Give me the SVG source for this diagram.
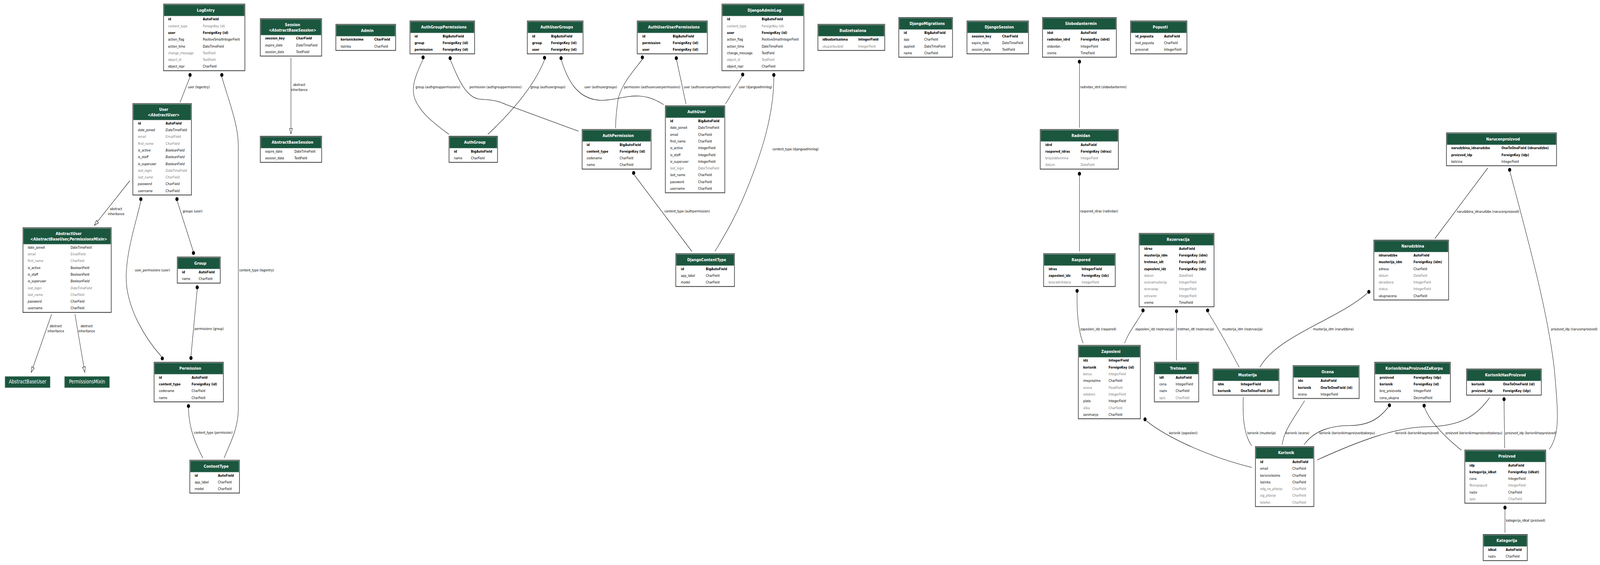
<svg xmlns="http://www.w3.org/2000/svg" width="5136" height="1447" viewBox="0 0 5136 1447" preserveAspectRatio="none">
<style>
svg{width:100vw;height:1447px}
.bx{fill:#fff;stroke:#3c3c3c;stroke-width:2}
.hd{fill:#1b563f;stroke:#9fb5aa;stroke-width:0.8}
.tt{font-family:"DejaVu Sans",Verdana,sans-serif;font-size:11.3px;font-weight:bold;fill:#fff;text-anchor:middle}
.f{font-family:"DejaVu Sans",Verdana,sans-serif;font-size:9.45px;fill:#000}
.b{font-weight:bold}
.g{fill:#7b7b7b}
.i{font-style:italic}
.lb{font-family:"DejaVu Sans",Verdana,sans-serif;font-size:9.45px;fill:#000}
.lc{text-anchor:middle}
.e{fill:none;stroke:#000;stroke-width:1.1}
.d{fill:#000}
.ar{fill:#fff;stroke:#000;stroke-width:1.1}
.pl{fill:#1b563f;stroke:#9fb5aa;stroke-width:1}
.pt{font-family:"DejaVu Sans",Verdana,sans-serif;font-size:13.5px;fill:#fff;text-anchor:middle}
</style>
<rect width="5136" height="1447" fill="#fff"/>
<g id="connectors">
<circle class="d" cx="610" cy="192" r="5"/><path class="e" d="M610,197 L578,262"/>
<text class="lb" x="603" y="226.4">user (logentry)</text>
<circle class="d" cx="712" cy="192" r="5"/><path class="e" d="M712,197 C735,260 765,320 765,372 L765,1048 C765,1100 735,1140 719.5,1173"/>
<text class="lb" x="768" y="695.4">content_type (logentry)</text>
<circle class="d" cx="452" cy="510" r="5"/><circle class="d" cx="521" cy="918" r="5"/>
<path class="e" d="M452,515 C440,560 406,640 405,708 C404,790 470,870 518,913"/>
<text class="lb" x="433" y="695.4">user_permissions (user)</text>
<circle class="d" cx="568" cy="510" r="5"/><circle class="d" cx="621" cy="648" r="5"/>
<path class="e" d="M569,515 L620,643"/>
<text class="lb" x="586.5" y="544.4">groups (user)</text>
<circle class="d" cx="633" cy="736" r="5"/><circle class="d" cx="613" cy="917" r="5"/>
<path class="e" d="M633,741 L613,912"/>
<text class="lb" x="624" y="845.4">permissions (group)</text>
<circle class="d" cx="605" cy="1040" r="5"/><path class="e" d="M605,1045 C606,1100 630,1140 651,1173"/>
<text class="lb" x="622.7" y="1111.4">content_type (permission)</text>
<path class="e" d="M934,148 L934,329"/><polygon class="ar" points="934,343 929.5,329 938.5,329"/>
<text class="lb lc" x="960.5" y="220.4">abstract</text><text class="lb lc" x="960.5" y="233.4">inheritance</text>
<path class="e" d="M416.7,463 L312.9,567.4"/><polygon class="ar" points="303,577.3 316.1,570.6 309.7,564.2"/>
<text class="lb lc" x="372.6" y="538.4">abstract</text><text class="lb lc" x="372.6" y="551.4">inheritance</text>
<path class="e" d="M165.6,805 L105.9,940.8"/><polygon class="ar" points="100.3,953.6 110,942.6 101.8,939"/>
<text class="lb lc" x="179" y="838.4">abstract</text><text class="lb lc" x="179" y="851.4">inheritance</text>
<path class="e" d="M240.6,805 L269.3,939.9"/><polygon class="ar" points="272.2,953.6 273.7,939 264.9,940.8"/>
<text class="lb lc" x="278" y="838.4">abstract</text><text class="lb lc" x="278" y="851.4">inheritance</text>
<circle class="d" cx="1358" cy="147" r="5"/><path class="e" d="M1358,152 C1335,190 1325,215 1327,235 C1330,280 1400,320 1441,344"/>
<text class="lb" x="1334" y="226.4">group (authgrouppermissions)</text>
<circle class="d" cx="1445" cy="149" r="5"/><path class="e" d="M1446,154 C1470,200 1495,250 1540,254 C1580,256 1600,258 1625,268 L1857,336"/>
<text class="lb" x="1507" y="226.4">permission (authgrouppermissions)</text>
<circle class="d" cx="1748" cy="148" r="5"/><path class="e" d="M1748,153 Q1705,240 1566,344"/>
<text class="lb" x="1703" y="226.4">group (authusergroups)</text>
<circle class="d" cx="1801" cy="149" r="5"/><path class="e" d="M1802,154 C1820,200 1850,255 1930,257 C1990,258 2050,225 2130,268"/>
<text class="lb" x="1875.7" y="226.4">user (authusergroups)</text>
<circle class="d" cx="2062" cy="147" r="5"/><path class="e" d="M2062,152 C2030,185 1990,220 1983,260 C1978,290 1976,310 1976,328"/>
<text class="lb" x="2002.6" y="226.4">permission (authuseruserpermissions)</text>
<circle class="d" cx="2171" cy="149" r="5"/><path class="e" d="M2172,154 L2202,266"/>
<text class="lb" x="2194.7" y="226.4">user (authuseruserpermissions)</text>
<circle class="d" cx="2384" cy="191" r="5"/><path class="e" d="M2382,196 L2329,266"/>
<text class="lb" x="2371.5" y="226.4">user (djangoadminlog)</text>
<circle class="d" cx="2484" cy="192" r="5"/><path class="e" d="M2484,197 C2484,300 2440,400 2400,480 C2360,560 2320,610 2295,644"/>
<text class="lb" x="2479.5" y="385.4">content_type (djangoadminlog)</text>
<circle class="d" cx="2034" cy="443" r="5"/><path class="e" d="M2036,448 L2221,644"/>
<text class="lb" x="2133" y="544.4">content_type (authpermission)</text>
<circle class="d" cx="3465" cy="158" r="5"/><path class="e" d="M3465,163 L3465,327"/>
<text class="lb" x="3467" y="226.4">radnidan_idrd (slobodantermin)</text>
<circle class="d" cx="3465" cy="445" r="5"/><path class="e" d="M3465,450 L3465,644"/>
<text class="lb" x="3467" y="544.4">raspored_idras (radnidan)</text>
<circle class="d" cx="3457.5" cy="745" r="5"/><path class="e" d="M3457.5,750 C3456,800 3462,850 3477,879"/>
<text class="lb" x="3468" y="845.9">zaposleni_idz (raspored)</text>
<circle class="d" cx="3669" cy="795" r="5"/><path class="e" d="M3667,800 C3645,830 3620,855 3610,879"/>
<text class="lb" x="3644.6" y="845.9">zaposleni_idz (rezervacija)</text>
<circle class="d" cx="3776.6" cy="797" r="5"/><path class="e" d="M3776.6,802 L3776.6,923"/>
<text class="lb" x="3780" y="845.9">tretman_idt (rezervacija)</text>
<circle class="d" cx="3876.5" cy="795" r="5"/><path class="e" d="M3878,800 Q3925,860 3978,941"/>
<text class="lb" x="3923.6" y="845.9">musterija_idm (rezervacija)</text>
<circle class="d" cx="4394" cy="747.5" r="5"/><path class="e" d="M4389,751 C4290,820 4100,860 4044,941"/>
<text class="lb" x="4215" y="845.9">musterija_idm (narudzbina)</text>
<path class="e" d="M4776,430 L4606,611"/>
<text class="lb" x="4676.4" y="544.8">narudzbina_idnarudzbe (narucenproizvod)</text>
<circle class="d" cx="4846" cy="435" r="5"/><path class="e" d="M4847,440 C4900,600 4970,800 4990,950 C5000,1050 5010,1110 4973,1151"/>
<text class="lb" x="4979" y="845.9">proizvod_idp (narucenproizvod)</text>
<circle class="d" cx="3675.6" cy="1074" r="5"/><path class="e" d="M3680,1078 C3745,1120 3880,1170 4018,1197"/>
<text class="lb" x="3752.5" y="1111.6">korisnik (zaposleni)</text>
<path class="e" d="M3991,1017 C3988,1075 3995,1115 4018,1142"/>
<text class="lb" x="4004" y="1111.6">korisnik (musterija)</text>
<path class="e" d="M4188,1026 C4150,1075 4120,1105 4116,1139"/>
<text class="lb" x="4127" y="1111.6">korisnik (ocena)</text>
<circle class="d" cx="4460" cy="1038" r="5"/><path class="e" d="M4456,1043 C4420,1080 4380,1090 4330,1090 C4280,1090 4220,1100 4186,1139"/>
<text class="lb" x="4235" y="1111.6">korisnik (korisnikimaproizvodzakorpu)</text>
<circle class="d" cx="4571.5" cy="1039" r="5"/><path class="e" d="M4573,1044 C4590,1080 4640,1120 4691,1153"/>
<text class="lb" x="4640" y="1111.6">proizvod (korisnikimaproizvodzakorpu)</text>
<path class="e" d="M4782,1018 C4740,1065 4690,1092 4580,1093 C4480,1094 4360,1130 4228,1178"/>
<text class="lb" x="4479" y="1111.6">korisnik (korisnikhasproizvod)</text>
<circle class="d" cx="4828" cy="1022.5" r="5"/><path class="e" d="M4828,1027 L4830,1148"/>
<text class="lb" x="4832" y="1111.6">proizvod_idp (korisnikhasproizvod)</text>
<circle class="d" cx="4831" cy="1300" r="5"/><path class="e" d="M4831,1305 L4831,1364"/>
<text class="lb" x="4834" y="1336.4">kategorija_idkat (proizvod)</text>
</g>

<g id="LogEntry">
<rect class="bx" x="525" y="10.5" width="261" height="170.6"/><rect class="hd" x="526.5" y="12" width="258" height="29"/>
<text class="tt" x="660.5" y="29.8">LogEntry</text>
<text class="f b" y="52.4"><tspan x="539.5">id</tspan><tspan x="651">AutoField</tspan></text>
<text class="f g" y="69.7"><tspan x="539.5">content_type</tspan><tspan x="651">ForeignKey (id)</tspan></text>
<text class="f b" y="87"><tspan x="539.5">user</tspan><tspan x="651">ForeignKey (id)</tspan></text>
<text class="f" y="104.3"><tspan x="539.5">action_flag</tspan><tspan x="651">PositiveSmallIntegerField</tspan></text>
<text class="f" y="121.6"><tspan x="539.5">action_time</tspan><tspan x="651">DateTimeField</tspan></text>
<text class="f g" y="138.9"><tspan x="539.5">change_message</tspan><tspan x="651">TextField</tspan></text>
<text class="f g" y="156.2"><tspan x="539.5">object_id</tspan><tspan x="651">TextField</tspan></text>
<text class="f" y="173.5"><tspan x="539.5">object_repr</tspan><tspan x="651">CharField</tspan></text>
</g>

<g id="Session">
<rect class="bx" x="835.5" y="48" width="197" height="95.6"/><rect class="hd" x="837" y="49.5" width="194" height="40.5"/>
<text class="tt" x="939" y="67">Session</text>
<text class="tt" x="939" y="80.6">&lt;<tspan class="i">AbstractBaseSession</tspan>&gt;</text>
<text class="f b i" y="101.4"><tspan x="851">session_key</tspan><tspan x="950.5">CharField</tspan></text>
<text class="f i" y="118.7"><tspan x="851">expire_date</tspan><tspan x="950.5">DateTimeField</tspan></text>
<text class="f i" y="136"><tspan x="851">session_data</tspan><tspan x="950.5">TextField</tspan></text>
</g>

<g id="AbstractBaseSession">
<rect class="bx" x="835.5" y="349" width="197" height="66.8"/><rect class="hd" x="837" y="350.5" width="194" height="29"/>
<text class="tt" x="939" y="368.3">AbstractBaseSession</text>
<text class="f" y="390.9"><tspan x="851">expire_date</tspan><tspan x="945">DateTimeField</tspan></text>
<text class="f" y="408.2"><tspan x="851">session_data</tspan><tspan x="945">TextField</tspan></text>
</g>

<g id="User">
<rect class="bx" x="426.5" y="265.4" width="188" height="234"/><rect class="hd" x="428" y="266.9" width="185" height="40.5"/>
<text class="tt" x="525.5" y="284.4">User</text>
<text class="tt" x="525.5" y="298">&lt;<tspan class="i">AbstractUser</tspan>&gt;</text>
<text class="f b" y="318.8"><tspan x="442.6">id</tspan><tspan x="531.8">AutoField</tspan></text>
<text class="f i" y="336.1"><tspan x="442.6">date_joined</tspan><tspan x="531.8">DateTimeField</tspan></text>
<text class="f i g" y="353.4"><tspan x="442.6">email</tspan><tspan x="531.8">EmailField</tspan></text>
<text class="f i g" y="370.7"><tspan x="442.6">first_name</tspan><tspan x="531.8">CharField</tspan></text>
<text class="f i" y="388"><tspan x="442.6">is_active</tspan><tspan x="531.8">BooleanField</tspan></text>
<text class="f i" y="405.3"><tspan x="442.6">is_staff</tspan><tspan x="531.8">BooleanField</tspan></text>
<text class="f i" y="422.6"><tspan x="442.6">is_superuser</tspan><tspan x="531.8">BooleanField</tspan></text>
<text class="f i g" y="439.9"><tspan x="442.6">last_login</tspan><tspan x="531.8">DateTimeField</tspan></text>
<text class="f i g" y="457.2"><tspan x="442.6">last_name</tspan><tspan x="531.8">CharField</tspan></text>
<text class="f i" y="474.5"><tspan x="442.6">password</tspan><tspan x="531.8">CharField</tspan></text>
<text class="f i" y="491.8"><tspan x="442.6">username</tspan><tspan x="531.8">CharField</tspan></text>
</g>

<g id="AbstractUser">
<rect class="bx" x="73.7" y="583.35" width="283.3" height="216.7"/><rect class="hd" x="75.2" y="584.85" width="280.3" height="40.5"/>
<text class="tt" x="220.35" y="602.35">AbstractUser</text>
<text class="tt" x="220.35" y="615.95">&lt;<tspan class="i">AbstractBaseUser,PermissionsMixin</tspan>&gt;</text>
<text class="f" y="636.75"><tspan x="89">date_joined</tspan><tspan x="226.6">DateTimeField</tspan></text>
<text class="f g" y="654.05"><tspan x="89">email</tspan><tspan x="226.6">EmailField</tspan></text>
<text class="f g" y="671.35"><tspan x="89">first_name</tspan><tspan x="226.6">CharField</tspan></text>
<text class="f" y="688.65"><tspan x="89">is_active</tspan><tspan x="226.6">BooleanField</tspan></text>
<text class="f" y="705.95"><tspan x="89">is_staff</tspan><tspan x="226.6">BooleanField</tspan></text>
<text class="f i" y="723.25"><tspan x="89">is_superuser</tspan><tspan x="226.6">BooleanField</tspan></text>
<text class="f i g" y="740.55"><tspan x="89">last_login</tspan><tspan x="226.6">DateTimeField</tspan></text>
<text class="f g" y="757.85"><tspan x="89">last_name</tspan><tspan x="226.6">CharField</tspan></text>
<text class="f i" y="775.15"><tspan x="89">password</tspan><tspan x="226.6">CharField</tspan></text>
<text class="f" y="792.45"><tspan x="89">username</tspan><tspan x="226.6">CharField</tspan></text>
</g>

<g id="AbstractBaseUser">
<rect class="pl" x="16" y="964" width="145" height="29"/>
<text class="pt" x="88.5" y="981.8">AbstractBaseUser</text>
</g>
<g id="PermissionsMixin">
<rect class="pl" x="207" y="964" width="144.5" height="29"/>
<text class="pt" x="279.25" y="981.8">PermissionsMixin</text>
</g>

<g id="Group">
<rect class="bx" x="569" y="658.3" width="138" height="66.8"/><rect class="hd" x="570.5" y="659.8" width="135" height="29"/>
<text class="tt" x="643" y="677.6">Group</text>
<text class="f b" y="700.2"><tspan x="584">id</tspan><tspan x="638">AutoField</tspan></text>
<text class="f" y="717.5"><tspan x="584">name</tspan><tspan x="638">CharField</tspan></text>
</g>

<g id="Permission">
<rect class="bx" x="494.6" y="927.8" width="222.4" height="101.4"/><rect class="hd" x="496.1" y="929.3" width="219.4" height="29"/>
<text class="tt" x="610.8" y="947.1">Permission</text>
<text class="f b" y="969.7"><tspan x="510">id</tspan><tspan x="615">AutoField</tspan></text>
<text class="f b" y="987"><tspan x="510">content_type</tspan><tspan x="615">ForeignKey (id)</tspan></text>
<text class="f" y="1004.3"><tspan x="510">codename</tspan><tspan x="615">CharField</tspan></text>
<text class="f" y="1021.6"><tspan x="510">name</tspan><tspan x="615">CharField</tspan></text>
</g>

<g id="ContentType">
<rect class="bx" x="609.3" y="1178.65" width="159.4" height="84.1"/><rect class="hd" x="610.8" y="1180.15" width="156.4" height="29"/>
<text class="tt" x="694" y="1197.95">ContentType</text>
<text class="f b" y="1220.55"><tspan x="625">id</tspan><tspan x="699.7">AutoField</tspan></text>
<text class="f" y="1237.85"><tspan x="625">app_label</tspan><tspan x="699.7">CharField</tspan></text>
<text class="f" y="1255.15"><tspan x="625">model</tspan><tspan x="699.7">CharField</tspan></text>
</g>

<g id="Admin">
<rect class="bx" x="1078" y="62.4" width="192" height="66.8"/><rect class="hd" x="1079.5" y="63.9" width="189" height="29"/>
<text class="tt" x="1179" y="81.7">Admin</text>
<text class="f b" y="104.3"><tspan x="1093.5">korisnickoime</tspan><tspan x="1201.5">CharField</tspan></text>
<text class="f" y="121.6"><tspan x="1093.5">lozinka</tspan><tspan x="1201.5">CharField</tspan></text>
</g>

<g id="AuthGroupPermissions">
<rect class="bx" x="1316" y="53.75" width="207.5" height="84.1"/><rect class="hd" x="1317.5" y="55.25" width="204.5" height="29"/>
<text class="tt" x="1424.75" y="73.05">AuthGroupPermissions</text>
<text class="f b" y="95.65"><tspan x="1330.6">id</tspan><tspan x="1421">BigAutoField</tspan></text>
<text class="f b" y="112.95"><tspan x="1330.6">group</tspan><tspan x="1421">ForeignKey (id)</tspan></text>
<text class="f b" y="130.25"><tspan x="1330.6">permission</tspan><tspan x="1421">ForeignKey (id)</tspan></text>
</g>

<g id="AuthUserGroups">
<rect class="bx" x="1692.6" y="53.75" width="179" height="84.1"/><rect class="hd" x="1694.1" y="55.25" width="176" height="29"/>
<text class="tt" x="1787.1" y="73.05">AuthUserGroups</text>
<text class="f b" y="95.65"><tspan x="1708">id</tspan><tspan x="1769">BigAutoField</tspan></text>
<text class="f b" y="112.95"><tspan x="1708">group</tspan><tspan x="1769">ForeignKey (id)</tspan></text>
<text class="f b" y="130.25"><tspan x="1708">user</tspan><tspan x="1769">ForeignKey (id)</tspan></text>
</g>

<g id="AuthUserUserPermissions">
<rect class="bx" x="2045.5" y="53.75" width="225" height="84.1"/><rect class="hd" x="2047" y="55.25" width="222" height="29"/>
<text class="tt" x="2163" y="73.05">AuthUserUserPermissions</text>
<text class="f b" y="95.65"><tspan x="2061.6">id</tspan><tspan x="2159.6">BigAutoField</tspan></text>
<text class="f b" y="112.95"><tspan x="2061.6">permission</tspan><tspan x="2159.6">ForeignKey (id)</tspan></text>
<text class="f b" y="130.25"><tspan x="2061.6">user</tspan><tspan x="2159.6">ForeignKey (id)</tspan></text>
</g>

<g id="AuthGroup">
<rect class="bx" x="1441.4" y="349" width="155.6" height="66.8"/><rect class="hd" x="1442.9" y="350.5" width="152.6" height="29"/>
<text class="tt" x="1524.2" y="368.3">AuthGroup</text>
<text class="f b" y="390.9"><tspan x="1457">id</tspan><tspan x="1511.6">BigAutoField</tspan></text>
<text class="f" y="408.2"><tspan x="1457">name</tspan><tspan x="1511.6">CharField</tspan></text>
</g>

<g id="AuthPermission">
<rect class="bx" x="1868.7" y="331.7" width="221.3" height="101.4"/><rect class="hd" x="1870.2" y="333.2" width="218.3" height="29"/>
<text class="tt" x="1984.35" y="351">AuthPermission</text>
<text class="f b" y="373.6"><tspan x="1883">id</tspan><tspan x="1989">BigAutoField</tspan></text>
<text class="f b" y="390.9"><tspan x="1883">content_type</tspan><tspan x="1989">ForeignKey (id)</tspan></text>
<text class="f" y="408.2"><tspan x="1883">codename</tspan><tspan x="1989">CharField</tspan></text>
<text class="f" y="425.5"><tspan x="1883">name</tspan><tspan x="1989">CharField</tspan></text>
</g>

<g id="DjangoAdminLog">
<rect class="bx" x="2317.5" y="10.5" width="263" height="170.6"/><rect class="hd" x="2319" y="12" width="260" height="29"/>
<text class="tt" x="2454" y="29.8">DjangoAdminLog</text>
<text class="f b" y="52.4"><tspan x="2333.6">id</tspan><tspan x="2445">BigAutoField</tspan></text>
<text class="f g" y="69.7"><tspan x="2333.6">content_type</tspan><tspan x="2445">ForeignKey (id)</tspan></text>
<text class="f b" y="87"><tspan x="2333.6">user</tspan><tspan x="2445">ForeignKey (id)</tspan></text>
<text class="f" y="104.3"><tspan x="2333.6">action_flag</tspan><tspan x="2445">PositiveSmallIntegerField</tspan></text>
<text class="f" y="121.6"><tspan x="2333.6">action_time</tspan><tspan x="2445">DateTimeField</tspan></text>
<text class="f" y="138.9"><tspan x="2333.6">change_message</tspan><tspan x="2445">TextField</tspan></text>
<text class="f g" y="156.2"><tspan x="2333.6">object_id</tspan><tspan x="2445">TextField</tspan></text>
<text class="f" y="173.5"><tspan x="2333.6">object_repr</tspan><tspan x="2445">CharField</tspan></text>
</g>

<g id="AuthUser">
<rect class="bx" x="2135.8" y="271.15" width="190.8" height="222.5"/><rect class="hd" x="2137.3" y="272.65" width="187.8" height="29"/>
<text class="tt" x="2236.2" y="290.45">AuthUser</text>
<text class="f b" y="313.05"><tspan x="2151">id</tspan><tspan x="2241">BigAutoField</tspan></text>
<text class="f" y="330.35"><tspan x="2151">date_joined</tspan><tspan x="2241">DateTimeField</tspan></text>
<text class="f" y="347.65"><tspan x="2151">email</tspan><tspan x="2241">CharField</tspan></text>
<text class="f" y="364.95"><tspan x="2151">first_name</tspan><tspan x="2241">CharField</tspan></text>
<text class="f" y="382.25"><tspan x="2151">is_active</tspan><tspan x="2241">IntegerField</tspan></text>
<text class="f" y="399.55"><tspan x="2151">is_staff</tspan><tspan x="2241">IntegerField</tspan></text>
<text class="f" y="416.85"><tspan x="2151">is_superuser</tspan><tspan x="2241">IntegerField</tspan></text>
<text class="f g" y="434.15"><tspan x="2151">last_login</tspan><tspan x="2241">DateTimeField</tspan></text>
<text class="f" y="451.45"><tspan x="2151">last_name</tspan><tspan x="2241">CharField</tspan></text>
<text class="f" y="468.75"><tspan x="2151">password</tspan><tspan x="2241">CharField</tspan></text>
<text class="f" y="486.05"><tspan x="2151">username</tspan><tspan x="2241">CharField</tspan></text>
</g>

<g id="Budzetsalona">
<rect class="bx" x="2625.4" y="62.4" width="214.6" height="66.8"/><rect class="hd" x="2626.9" y="63.9" width="211.6" height="29"/>
<text class="tt" x="2737.7" y="81.7">Budzetsalona</text>
<text class="f b" y="104.3"><tspan x="2640">idbudzetsalona</tspan><tspan x="2755">IntegerField</tspan></text>
<text class="f g" y="121.6"><tspan x="2640">ukupanbudzet</tspan><tspan x="2755">IntegerField</tspan></text>
</g>

<g id="DjangoMigrations">
<rect class="bx" x="2885" y="45.1" width="172.6" height="101.4"/><rect class="hd" x="2886.5" y="46.6" width="169.6" height="29"/>
<text class="tt" x="2976.3" y="64.4">DjangoMigrations</text>
<text class="f b" y="87"><tspan x="2901">id</tspan><tspan x="2967">BigAutoField</tspan></text>
<text class="f" y="104.3"><tspan x="2901">app</tspan><tspan x="2967">CharField</tspan></text>
<text class="f" y="121.6"><tspan x="2901">applied</tspan><tspan x="2967">DateTimeField</tspan></text>
<text class="f" y="138.9"><tspan x="2901">name</tspan><tspan x="2967">CharField</tspan></text>
</g>

<g id="DjangoSession">
<rect class="bx" x="3104" y="53.75" width="197.5" height="84.1"/><rect class="hd" x="3105.5" y="55.25" width="194.5" height="29"/>
<text class="tt" x="3207.75" y="73.05">DjangoSession</text>
<text class="f b" y="95.65"><tspan x="3119">session_key</tspan><tspan x="3217">CharField</tspan></text>
<text class="f" y="112.95"><tspan x="3119">expire_date</tspan><tspan x="3217">DateTimeField</tspan></text>
<text class="f" y="130.25"><tspan x="3119">session_data</tspan><tspan x="3217">TextField</tspan></text>
</g>

<g id="Slobodantermin">
<rect class="bx" x="3346.4" y="45.1" width="237" height="101.4"/><rect class="hd" x="3347.9" y="46.6" width="234" height="29"/>
<text class="tt" x="3469.9" y="64.4">Slobodantermin</text>
<text class="f b" y="87"><tspan x="3361">idst</tspan><tspan x="3469">AutoField</tspan></text>
<text class="f b" y="104.3"><tspan x="3361">radnidan_idrd</tspan><tspan x="3469">ForeignKey (idrd)</tspan></text>
<text class="f" y="121.6"><tspan x="3361">slobodan</tspan><tspan x="3469">IntegerField</tspan></text>
<text class="f" y="138.9"><tspan x="3361">vreme</tspan><tspan x="3469">TimeField</tspan></text>
</g>

<g id="Popusti">
<rect class="bx" x="3629" y="53.75" width="181" height="84.1"/><rect class="hd" x="3630.5" y="55.25" width="178" height="29"/>
<text class="tt" x="3724.5" y="73.05">Popusti</text>
<text class="f b" y="95.65"><tspan x="3644.6">id_popusta</tspan><tspan x="3736.5">AutoField</tspan></text>
<text class="f" y="112.95"><tspan x="3644.6">kod_popusta</tspan><tspan x="3736.5">CharField</tspan></text>
<text class="f" y="130.25"><tspan x="3644.6">procenat</tspan><tspan x="3736.5">IntegerField</tspan></text>
</g>

<g id="Radnidan">
<rect class="bx" x="3339" y="331.7" width="251" height="101.4"/><rect class="hd" x="3340.5" y="333.2" width="248" height="29"/>
<text class="tt" x="3469.5" y="351">Radnidan</text>
<text class="f b" y="373.6"><tspan x="3355.5">idrd</tspan><tspan x="3469">AutoField</tspan></text>
<text class="f b" y="390.9"><tspan x="3355.5">raspored_idras</tspan><tspan x="3469">ForeignKey (idras)</tspan></text>
<text class="f g" y="408.2"><tspan x="3355.5">brojslobtermina</tspan><tspan x="3469">IntegerField</tspan></text>
<text class="f g" y="425.5"><tspan x="3355.5">datum</tspan><tspan x="3469">DateField</tspan></text>
</g>

<g id="Raspored">
<rect class="bx" x="3350" y="649.65" width="230" height="84.1"/><rect class="hd" x="3351.5" y="651.15" width="227" height="29"/>
<text class="tt" x="3470" y="668.95">Raspored</text>
<text class="f b" y="691.55"><tspan x="3366">idras</tspan><tspan x="3472">IntegerField</tspan></text>
<text class="f b" y="708.85"><tspan x="3366">zaposleni_idz</tspan><tspan x="3472">ForeignKey (idz)</tspan></text>
<text class="f g" y="726.15"><tspan x="3366">brojradnihdana</tspan><tspan x="3472">IntegerField</tspan></text>
</g>

<g id="DjangoContentType">
<rect class="bx" x="2169.3" y="649.65" width="188.4" height="84.1"/><rect class="hd" x="2170.8" y="651.15" width="185.4" height="29"/>
<text class="tt" x="2268.5" y="668.95">DjangoContentType</text>
<text class="f b" y="691.55"><tspan x="2185.7">id</tspan><tspan x="2265.7">BigAutoField</tspan></text>
<text class="f" y="708.85"><tspan x="2185.7">app_label</tspan><tspan x="2265.7">CharField</tspan></text>
<text class="f" y="726.15"><tspan x="2185.7">model</tspan><tspan x="2265.7">CharField</tspan></text>
</g>

<g id="Rezervacija">
<rect class="bx" x="3656.7" y="597.75" width="240.3" height="187.9"/><rect class="hd" x="3658.2" y="599.25" width="237.3" height="29"/>
<text class="tt" x="3781.85" y="617.05">Rezervacija</text>
<text class="f b" y="639.65"><tspan x="3672.7">idrez</tspan><tspan x="3784.7">AutoField</tspan></text>
<text class="f b" y="656.95"><tspan x="3672.7">musterija_idm</tspan><tspan x="3784.7">ForeignKey (idm)</tspan></text>
<text class="f b" y="674.25"><tspan x="3672.7">tretman_idt</tspan><tspan x="3784.7">ForeignKey (idt)</tspan></text>
<text class="f b" y="691.55"><tspan x="3672.7">zaposleni_idz</tspan><tspan x="3784.7">ForeignKey (idz)</tspan></text>
<text class="f g" y="708.85"><tspan x="3672.7">datum</tspan><tspan x="3784.7">DateField</tspan></text>
<text class="f g" y="726.15"><tspan x="3672.7">ocenamusterija</tspan><tspan x="3784.7">IntegerField</tspan></text>
<text class="f g" y="743.45"><tspan x="3672.7">ocenazap</tspan><tspan x="3784.7">IntegerField</tspan></text>
<text class="f g" y="760.75"><tspan x="3672.7">ostvaren</tspan><tspan x="3784.7">IntegerField</tspan></text>
<text class="f" y="778.05"><tspan x="3672.7">vreme</tspan><tspan x="3784.7">TimeField</tspan></text>
</g>

<g id="Narucenproizvod">
<rect class="bx" x="4643" y="340.35" width="353.4" height="84.1"/><rect class="hd" x="4644.5" y="341.85" width="350.4" height="29"/>
<text class="tt" x="4824.7" y="359.65">Narucenproizvod</text>
<text class="f b" y="382.25"><tspan x="4658.5">narudzbina_idnarudzbe</tspan><tspan x="4819.7">OneToOneField (idnarudzbe)</tspan></text>
<text class="f b" y="399.55"><tspan x="4658.5">proizvod_idp</tspan><tspan x="4819.7">ForeignKey (idp)</tspan></text>
<text class="f" y="416.85"><tspan x="4658.5">kolicina</tspan><tspan x="4819.7">IntegerField</tspan></text>
</g>

<g id="Narudzbina">
<rect class="bx" x="4410" y="615.05" width="240" height="153.3"/><rect class="hd" x="4411.5" y="616.55" width="237" height="29"/>
<text class="tt" x="4535" y="634.35">Narudzbina</text>
<text class="f b" y="656.95"><tspan x="4425.7">idnarudzbe</tspan><tspan x="4537.3">AutoField</tspan></text>
<text class="f b" y="674.25"><tspan x="4425.7">musterija_idm</tspan><tspan x="4537.3">ForeignKey (idm)</tspan></text>
<text class="f" y="691.55"><tspan x="4425.7">adresa</tspan><tspan x="4537.3">CharField</tspan></text>
<text class="f g" y="708.85"><tspan x="4425.7">datum</tspan><tspan x="4537.3">DateField</tspan></text>
<text class="f g" y="726.15"><tspan x="4425.7">obradjena</tspan><tspan x="4537.3">IntegerField</tspan></text>
<text class="f g" y="743.45"><tspan x="4425.7">status</tspan><tspan x="4537.3">IntegerField</tspan></text>
<text class="f" y="760.75"><tspan x="4425.7">ukupnacena</tspan><tspan x="4537.3">CharField</tspan></text>
</g>

<g id="Zaposleni">
<rect class="bx" x="3461.5" y="884.55" width="199.2" height="187.9"/><rect class="hd" x="3463" y="886.05" width="196.2" height="29"/>
<text class="tt" x="3566.1" y="903.85">Zaposleni</text>
<text class="f b" y="926.45"><tspan x="3477">idz</tspan><tspan x="3558.5">IntegerField</tspan></text>
<text class="f b" y="943.75"><tspan x="3477">korisnik</tspan><tspan x="3558.5">ForeignKey (id)</tspan></text>
<text class="f g" y="961.05"><tspan x="3477">bonus</tspan><tspan x="3558.5">IntegerField</tspan></text>
<text class="f" y="978.35"><tspan x="3477">imeprezime</tspan><tspan x="3558.5">CharField</tspan></text>
<text class="f g" y="995.65"><tspan x="3477">ocena</tspan><tspan x="3558.5">FloatField</tspan></text>
<text class="f g" y="1012.95"><tspan x="3477">odobren</tspan><tspan x="3558.5">IntegerField</tspan></text>
<text class="f" y="1030.25"><tspan x="3477">plata</tspan><tspan x="3558.5">IntegerField</tspan></text>
<text class="f g" y="1047.55"><tspan x="3477">slika</tspan><tspan x="3558.5">CharField</tspan></text>
<text class="f" y="1064.85"><tspan x="3477">zanimanje</tspan><tspan x="3558.5">CharField</tspan></text>
</g>

<g id="Tretman">
<rect class="bx" x="3705.5" y="927.8" width="142.3" height="101.4"/><rect class="hd" x="3707" y="929.3" width="139.3" height="29"/>
<text class="tt" x="3781.65" y="947.1">Tretman</text>
<text class="f b" y="969.7"><tspan x="3721.5">idt</tspan><tspan x="3774">AutoField</tspan></text>
<text class="f" y="987"><tspan x="3721.5">cena</tspan><tspan x="3774">IntegerField</tspan></text>
<text class="f" y="1004.3"><tspan x="3721.5">naziv</tspan><tspan x="3774">CharField</tspan></text>
<text class="f g" y="1021.6"><tspan x="3721.5">opis</tspan><tspan x="3774">CharField</tspan></text>
</g>

<g id="Musterija">
<rect class="bx" x="3893.7" y="945.1" width="212" height="66.8"/><rect class="hd" x="3895.2" y="946.6" width="209" height="29"/>
<text class="tt" x="4004.7" y="964.4">Musterija</text>
<text class="f b" y="987"><tspan x="3909">idm</tspan><tspan x="3982.7">IntegerField</tspan></text>
<text class="f b" y="1004.3"><tspan x="3909">korisnik</tspan><tspan x="3982.7">OneToOneField (id)</tspan></text>
</g>

<g id="Ocena">
<rect class="bx" x="4150.9" y="936.45" width="212" height="84.1"/><rect class="hd" x="4152.4" y="937.95" width="209" height="29"/>
<text class="tt" x="4261.9" y="955.75">Ocena</text>
<text class="f b" y="978.35"><tspan x="4166.4">ido</tspan><tspan x="4239.3">AutoField</tspan></text>
<text class="f b" y="995.65"><tspan x="4166.4">korisnik</tspan><tspan x="4239.3">OneToOneField (id)</tspan></text>
<text class="f" y="1012.95"><tspan x="4166.4">ocena</tspan><tspan x="4239.3">IntegerField</tspan></text>
</g>

<g id="Korisnik">
<rect class="bx" x="4029.8" y="1144.05" width="187.7" height="153.3"/><rect class="hd" x="4031.3" y="1145.55" width="184.7" height="29"/>
<text class="tt" x="4128.65" y="1163.35">Korisnik</text>
<text class="f b" y="1185.95"><tspan x="4045">id</tspan><tspan x="4148.6">AutoField</tspan></text>
<text class="f" y="1203.25"><tspan x="4045">email</tspan><tspan x="4148.6">CharField</tspan></text>
<text class="f" y="1220.55"><tspan x="4045">korisnickoime</tspan><tspan x="4148.6">CharField</tspan></text>
<text class="f" y="1237.85"><tspan x="4045">lozinka</tspan><tspan x="4148.6">CharField</tspan></text>
<text class="f g" y="1255.15"><tspan x="4045">odg_na_pitanje</tspan><tspan x="4148.6">CharField</tspan></text>
<text class="f g" y="1272.45"><tspan x="4045">sig_pitanje</tspan><tspan x="4148.6">CharField</tspan></text>
<text class="f g" y="1289.75"><tspan x="4045">telefon</tspan><tspan x="4148.6">CharField</tspan></text>
</g>

<g id="KorisnikImaProizvodZaKorpu">
<rect class="bx" x="4412.7" y="927.8" width="243" height="101.4"/><rect class="hd" x="4414.2" y="929.3" width="240" height="29"/>
<text class="tt" x="4539.2" y="947.1">KorisnikImaProizvodZaKorpu</text>
<text class="f b" y="969.7"><tspan x="4428.5">proizvod</tspan><tspan x="4537.6">ForeignKey (idp)</tspan></text>
<text class="f b" y="987"><tspan x="4428.5">korisnik</tspan><tspan x="4537.6">ForeignKey (id)</tspan></text>
<text class="f" y="1004.3"><tspan x="4428.5">broj_proizvoda</tspan><tspan x="4537.6">IntegerField</tspan></text>
<text class="f" y="1021.6"><tspan x="4428.5">cena_ukupna</tspan><tspan x="4537.6">DecimalField</tspan></text>
</g>

<g id="KorisnikHasProizvod">
<rect class="bx" x="4707.6" y="945.1" width="240" height="66.8"/><rect class="hd" x="4709.1" y="946.6" width="237" height="29"/>
<text class="tt" x="4832.6" y="964.4">KorisnikHasProizvod</text>
<text class="f b" y="987"><tspan x="4723.4">korisnik</tspan><tspan x="4824.6">OneToOneField (id)</tspan></text>
<text class="f b" y="1004.3"><tspan x="4723.4">proizvod_idp</tspan><tspan x="4824.6">ForeignKey (idp)</tspan></text>
</g>

<g id="Proizvod">
<rect class="bx" x="4702" y="1152.7" width="260" height="136"/><rect class="hd" x="4703.5" y="1154.2" width="257" height="29"/>
<text class="tt" x="4837" y="1172">Proizvod</text>
<text class="f b" y="1194.6"><tspan x="4717">idp</tspan><tspan x="4841.5">AutoField</tspan></text>
<text class="f b" y="1211.9"><tspan x="4717">kategorija_idkat</tspan><tspan x="4841.5">ForeignKey (idkat)</tspan></text>
<text class="f" y="1229.2"><tspan x="4717">cena</tspan><tspan x="4841.5">IntegerField</tspan></text>
<text class="f g" y="1246.5"><tspan x="4717">fiksnipopust</tspan><tspan x="4841.5">IntegerField</tspan></text>
<text class="f" y="1263.8"><tspan x="4717">naziv</tspan><tspan x="4841.5">CharField</tspan></text>
<text class="f g" y="1281.1"><tspan x="4717">opis</tspan><tspan x="4841.5">CharField</tspan></text>
</g>

<g id="Kategorija">
<rect class="bx" x="4761" y="1369" width="141.5" height="66.8"/><rect class="hd" x="4762.5" y="1370.5" width="138.5" height="29"/>
<text class="tt" x="4836.75" y="1388.3">Kategorija</text>
<text class="f b" y="1410.9"><tspan x="4776.5">idkat</tspan><tspan x="4833.6">AutoField</tspan></text>
<text class="f" y="1428.2"><tspan x="4776.5">naziv</tspan><tspan x="4833.6">CharField</tspan></text>
</g>
</svg>
